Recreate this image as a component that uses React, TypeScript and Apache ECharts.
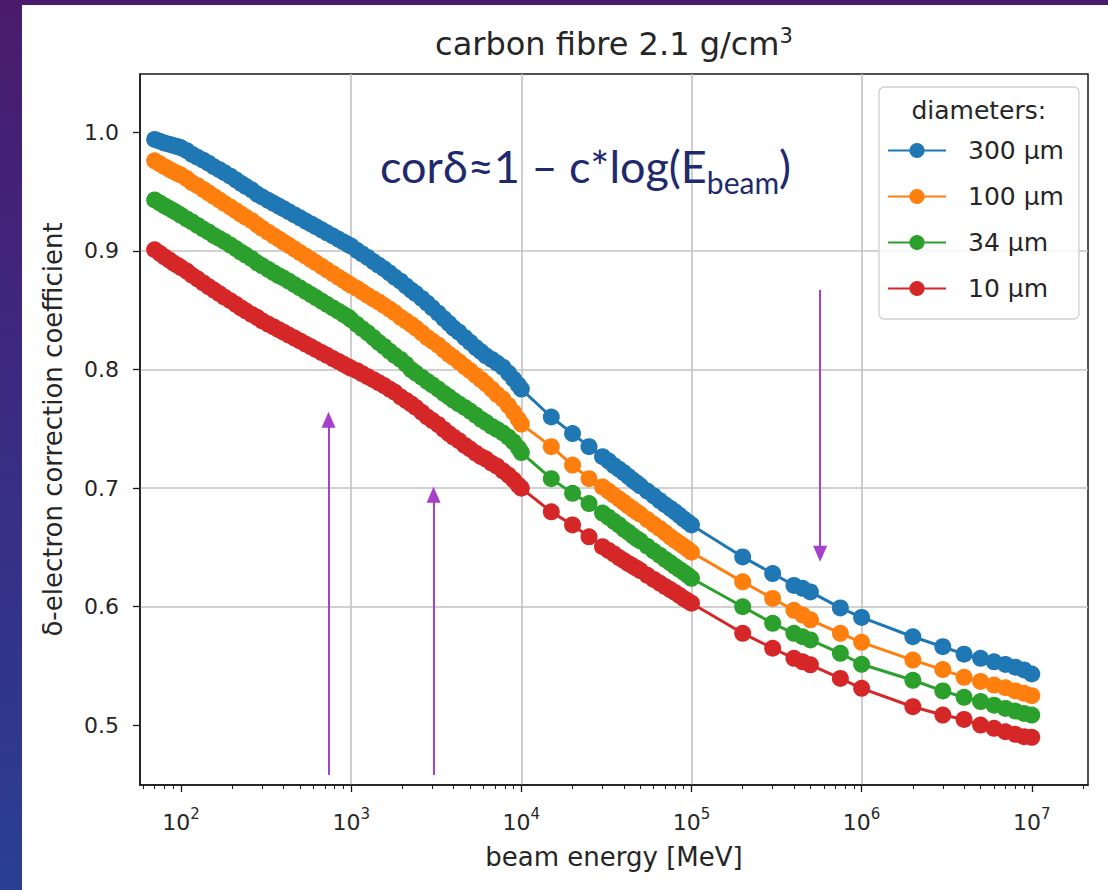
import React, { useEffect, useRef } from 'react';
import * as echarts from 'echarts';

// beam energies [MeV]
const ENERGY_MEV = [
  70, 75, 80, 85, 90, 95,
  100, 108, 116, 125, 135, 145, 156, 168, 180, 195, 210, 225, 240, 260, 280, 300,
  325, 350, 375, 400, 430, 465, 500, 540, 580, 620, 670, 720, 780, 840, 900, 960,
  1000, 1080, 1160, 1250, 1350, 1450, 1560, 1680, 1800, 1950, 2100, 2250, 2400, 2600, 2800, 3000,
  3250, 3500, 3750, 4000, 4300, 4650, 5000, 5400, 5800, 6200, 6700, 7200, 7800, 8400, 9000, 9600,
  10000, 15000, 20000, 25000, 30000, 32500, 35000, 37500, 40000, 42500, 45000, 47500,
  50000, 55000, 60000, 65000, 70000, 75000, 80000, 85000, 90000, 95000, 100000,
  200000, 300000, 400000, 450000, 500000, 750000,
  1000000, 2000000, 3000000, 4000000, 5000000, 6000000, 7000000, 8000000, 9000000, 10000000,
];

const COR_300UM = [
  0.994, 0.9925, 0.991, 0.990, 0.989, 0.988,
  0.987, 0.9845, 0.9815, 0.979, 0.9765, 0.974, 0.971, 0.9685, 0.966, 0.963, 0.960, 0.957, 0.9545, 0.9515, 0.948, 0.9455,
  0.9427, 0.9402, 0.9378, 0.9356, 0.9331, 0.9304, 0.9279, 0.9252, 0.9228, 0.9205, 0.9178, 0.9153, 0.9126, 0.9100, 0.9076, 0.9054,
  0.904, 0.9005, 0.8975, 0.8945, 0.891, 0.888, 0.885, 0.8815, 0.878, 0.8745, 0.8705, 0.867, 0.864, 0.860, 0.856, 0.852,
  0.8475, 0.843, 0.839, 0.835, 0.8315, 0.827, 0.823, 0.8185, 0.815, 0.8115, 0.8085, 0.8055, 0.802, 0.797, 0.792, 0.787,
  0.7835, 0.760, 0.746, 0.735, 0.7265, 0.723, 0.719, 0.716, 0.713, 0.710, 0.707, 0.7045,
  0.702, 0.6975, 0.6935, 0.6895, 0.686, 0.683, 0.680, 0.677, 0.674, 0.6715, 0.669,
  0.642, 0.628, 0.618, 0.6155, 0.6125, 0.599,
  0.591, 0.5747, 0.5663, 0.560, 0.5565, 0.5536, 0.5514, 0.549, 0.5467, 0.5433,
];

const COR_100UM = [
  0.976, 0.9735, 0.971, 0.969, 0.967, 0.9655,
  0.964, 0.961, 0.9575, 0.955, 0.952, 0.949, 0.946, 0.943, 0.940, 0.937, 0.934, 0.931, 0.9285, 0.9255, 0.922, 0.919,
  0.9158, 0.9128, 0.9101, 0.9075, 0.9047, 0.9016, 0.8986, 0.8956, 0.8927, 0.8901, 0.8870, 0.8841, 0.8809, 0.8779, 0.8752, 0.8726,
  0.871, 0.8685, 0.8655, 0.8625, 0.8595, 0.857, 0.854, 0.851, 0.848, 0.844, 0.841, 0.838, 0.835, 0.831, 0.827, 0.824,
  0.8205, 0.8165, 0.813, 0.810, 0.8065, 0.8025, 0.799, 0.795, 0.7915, 0.788, 0.7835, 0.779, 0.775, 0.7695, 0.764, 0.758,
  0.754, 0.735, 0.7195, 0.708, 0.701, 0.6975, 0.694, 0.691, 0.688, 0.685, 0.6825, 0.680,
  0.678, 0.6735, 0.6695, 0.666, 0.6625, 0.659, 0.656, 0.6535, 0.651, 0.6485, 0.646,
  0.621, 0.607, 0.597, 0.593, 0.589, 0.5776,
  0.570, 0.555, 0.547, 0.5405, 0.537, 0.534, 0.5317, 0.529, 0.527, 0.525,
];

const COR_34UM = [
  0.943, 0.9405, 0.938, 0.936, 0.934, 0.932,
  0.930, 0.927, 0.9245, 0.9215, 0.9185, 0.916, 0.913, 0.9105, 0.908, 0.905, 0.902, 0.899, 0.8965, 0.8935, 0.890, 0.8875,
  0.8845, 0.8817, 0.8791, 0.8772, 0.8745, 0.8715, 0.8688, 0.8659, 0.8632, 0.8607, 0.8577, 0.8550, 0.8520, 0.8492, 0.8466, 0.8442,
  0.842, 0.838, 0.8345, 0.831, 0.827, 0.823, 0.8195, 0.8155, 0.812, 0.8085, 0.8045, 0.800, 0.797, 0.7935, 0.790, 0.787,
  0.7835, 0.780, 0.777, 0.774, 0.771, 0.768, 0.765, 0.7615, 0.758, 0.7555, 0.752, 0.7495, 0.7465, 0.743, 0.739, 0.734,
  0.730, 0.708, 0.6956, 0.687, 0.679, 0.6755, 0.672, 0.669, 0.6655, 0.663, 0.660, 0.6575,
  0.6555, 0.651, 0.647, 0.6435, 0.640, 0.637, 0.634, 0.6315, 0.629, 0.6265, 0.624,
  0.600, 0.586, 0.5776, 0.5747, 0.572, 0.5607,
  0.5515, 0.538, 0.529, 0.5236, 0.520, 0.517, 0.5143, 0.512, 0.510, 0.5087,
];

const COR_10UM = [
  0.901, 0.898, 0.895, 0.8925, 0.890, 0.888,
  0.886, 0.883, 0.8795, 0.8765, 0.873, 0.870, 0.867, 0.864, 0.861, 0.858, 0.855, 0.852, 0.8495, 0.8465, 0.844, 0.841,
  0.8383, 0.8359, 0.8336, 0.8315, 0.8291, 0.8265, 0.8241, 0.8215, 0.8192, 0.8169, 0.8143, 0.8120, 0.8093, 0.8068, 0.8046, 0.8024,
  0.801, 0.799, 0.7965, 0.794, 0.7915, 0.789, 0.7865, 0.7835, 0.781, 0.777, 0.774, 0.771, 0.768, 0.764, 0.760, 0.757,
  0.7535, 0.7495, 0.746, 0.743, 0.740, 0.736, 0.733, 0.7295, 0.7265, 0.7245, 0.721, 0.7185, 0.7145, 0.711, 0.707, 0.7025,
  0.700, 0.680, 0.669, 0.659, 0.6506, 0.6475, 0.6445, 0.6415, 0.639, 0.6365, 0.6345, 0.6325,
  0.6305, 0.6265, 0.623, 0.620, 0.617, 0.6145, 0.612, 0.6095, 0.607, 0.605, 0.603,
  0.5776, 0.565, 0.5565, 0.5536, 0.551, 0.5396,
  0.5312, 0.5157, 0.5087, 0.505, 0.5002, 0.4975, 0.4946, 0.4924, 0.4904, 0.4899,
];

const SERIES_NAMES = ['300 µm', '100 µm', '34 µm', '10 µm'];
const SERIES_VALUES = [COR_300UM, COR_100UM, COR_34UM, COR_10UM];
const SERIES_COLORS = ['#1f77b4', '#ff7f0e', '#2ca02c', '#d62728'];

const X_MAJOR_TICKS = [100, 1000, 10000, 100000, 1000000, 10000000];
const X_MINOR_TICKS = [
  60, 70, 80, 90,
  200, 300, 400, 500, 600, 700, 800, 900,
  2000, 3000, 4000, 5000, 6000, 7000, 8000, 9000,
  20000, 30000, 40000, 50000, 60000, 70000, 80000, 90000,
  200000, 300000, 400000, 500000, 600000, 700000, 800000, 900000,
  2000000, 3000000, 4000000, 5000000, 6000000, 7000000, 8000000, 9000000,
  20000000,
];
const Y_TICKS = [0.5, 0.6, 0.7, 0.8, 0.9, 1.0];

const X_MIN = 57.4;
const X_MAX = 21400000;
const Y_MIN = 0.4497;
const Y_MAX = 1.0492;

// purple annotation arrows: energy position, start value, end value
const ARROW_X = [736, 3050, 570000];
const ARROW_FROM = [0.4581, 0.4581, 0.867];
const ARROW_TO = [0.7577, 0.6944, 0.6447];

const TITLE = 'carbon fibre 2.1 g/cm{sup|3}';
const FORMULA = 'corδ≈1 – c*log(E{sub|beam})';
const LEGEND_TITLE = 'diameters:';
const X_NAME = 'beam energy [MeV]';
const Y_NAME = 'δ-electron correction coefficient';

const INK = '#262626';
const SPINE = '#1a1a1a';
const GRID = '#c2c2c2';
const PURPLE = '#a63fca';
const FONT = 'DejaVu Sans';

export default function App() {
  const ref = useRef<HTMLDivElement>(null);

  useEffect(() => {
    if (!ref.current) return;
    const chart = echarts.init(ref.current, null, { renderer: 'svg' });

    const series: any[] = SERIES_NAMES.map((name, i) => ({
      name,
      type: 'line',
      data: ENERGY_MEV.map((e, j) => [e, SERIES_VALUES[i][j]]),
      symbol: 'circle',
      symbolSize: 17,
      showSymbol: true,
      showAllSymbol: true,
      lineStyle: { color: SERIES_COLORS[i], width: 3 },
      itemStyle: { color: SERIES_COLORS[i], borderWidth: 0 },
      emphasis: { disabled: true },
      silent: true,
    }));

    series.push({
      name: 'annotations',
      type: 'line',
      data: [],
      silent: true,
      markLine: {
        silent: true,
        symbol: ['none', 'triangle'],
        symbolSize: [14, 16],
        label: { show: false },
        lineStyle: { color: PURPLE, width: 2, type: 'solid' },
        emphasis: { disabled: true },
        data: ARROW_X.map((x, i) => [
          { coord: [x, ARROW_FROM[i]] },
          { coord: [x, ARROW_TO[i]] },
        ]),
      },
    });

    const option: any = {
      animation: false,
      backgroundColor: 'transparent',
      textStyle: { fontFamily: FONT },
      grid: {
        left: 140,
        right: 20,
        top: 74,
        bottom: 105,
        show: true,
        borderColor: SPINE,
        borderWidth: 1.5,
        backgroundColor: 'transparent',
      },
      xAxis: [
        {
          type: 'log',
          logBase: 10,
          min: X_MIN,
          max: X_MAX,
          name: X_NAME,
          nameLocation: 'middle',
          nameGap: 59,
          nameTextStyle: { fontSize: 26, color: INK, fontFamily: FONT },
          axisLine: { show: true, lineStyle: { color: SPINE, width: 1.5 } },
          axisTick: {
            show: true,
            inside: false,
            length: 7,
            customValues: X_MAJOR_TICKS,
            lineStyle: { color: SPINE, width: 1.3 },
          },
          axisLabel: {
            customValues: X_MAJOR_TICKS,
            margin: 21,
            fontSize: 22,
            lineHeight: 32,
            color: INK,
            fontFamily: FONT,
            formatter: (v: number) => '10{sup|' + Math.round(Math.log10(v)) + '}',
            rich: {
              sup: { fontSize: 15, lineHeight: 14, verticalAlign: 'top', color: INK, fontFamily: FONT },
            },
          },
          splitLine: {
            show: true,
            showMinLine: false,
            showMaxLine: false,
            lineStyle: { color: GRID, width: 1.6 },
          },
        },
        {
          type: 'log',
          logBase: 10,
          min: X_MIN,
          max: X_MAX,
          position: 'bottom',
          axisLine: { show: false },
          axisLabel: { show: false },
          splitLine: { show: false },
          axisTick: {
            show: true,
            inside: false,
            length: 4,
            customValues: X_MINOR_TICKS,
            lineStyle: { color: SPINE, width: 1 },
          },
        },
      ],
      yAxis: {
        type: 'value',
        min: Y_MIN,
        max: Y_MAX,
        name: Y_NAME,
        nameLocation: 'middle',
        nameGap: 74,
        nameRotate: 90,
        nameTextStyle: { fontSize: 26, color: INK, fontFamily: FONT },
        axisLine: { show: true, lineStyle: { color: SPINE, width: 1.5 } },
        axisTick: {
          show: true,
          inside: false,
          length: 7,
          customValues: Y_TICKS,
          lineStyle: { color: SPINE, width: 1.3 },
        },
        axisLabel: {
          customValues: Y_TICKS,
          margin: 21,
          fontSize: 22,
          color: INK,
          fontFamily: FONT,
          formatter: (v: number) => v.toFixed(1),
        },
        splitLine: {
          show: true,
          showMinLine: false,
          showMaxLine: false,
          lineStyle: { color: GRID, width: 1.6 },
        },
      },
      legend: {
        data: SERIES_NAMES,
        orient: 'vertical',
        left: 879,
        top: 87,
        padding: [51, 15, 18, 8],
        itemGap: 21,
        itemWidth: 58,
        itemHeight: 19,
        selectedMode: false,
        backgroundColor: 'rgba(255,255,255,0.8)',
        borderColor: '#cfcfcf',
        borderWidth: 1.3,
        borderRadius: 5,
        formatter: (name: string) => '{t|' + name + '}',
        textStyle: {
          fontSize: 25,
          color: INK,
          fontFamily: FONT,
          rich: {
            t: { fontSize: 25, lineHeight: 28, color: INK, fontFamily: FONT, padding: [0, 0, 0, 17] },
          },
        },
      },
      graphic: [
        {
          type: 'text',
          z: 10,
          silent: true,
          style: {
            text: TITLE,
            x: 614,
            y: 44,
            align: 'center',
            verticalAlign: 'middle',
            fontSize: 32,
            lineHeight: 38,
            fontFamily: FONT,
            fill: INK,
            rich: {
              sup: { fontSize: 21, lineHeight: 21, verticalAlign: 'top', fontFamily: FONT, fill: INK },
            },
          },
        },
        {
          type: 'text',
          z: 10,
          silent: true,
          style: {
            text: LEGEND_TITLE,
            x: 978.8,
            y: 110,
            align: 'center',
            verticalAlign: 'middle',
            fontSize: 25,
            fontFamily: FONT,
            fill: INK,
          },
        },
        {
          type: 'text',
          z: 10,
          silent: true,
          style: {
            text: FORMULA,
            x: 380,
            y: 166,
            align: 'left',
            verticalAlign: 'middle',
            fontSize: 45,
            lineHeight: 62,
            fontFamily: 'Lato',
            fill: '#1f2a6e',
            rich: {
              sub: { fontSize: 30, lineHeight: 32, verticalAlign: 'bottom', fontFamily: 'Lato', fill: '#1f2a6e' },
            },
          },
        },
      ],
      series,
    };

    chart.setOption(option);
    return () => chart.dispose();
  }, []);

  return (
    <div
      style={{
        position: 'fixed',
        left: 0,
        top: 0,
        width: 1108,
        height: 890,
        overflow: 'hidden',
        background: 'linear-gradient(to bottom, #4a1b6d 0%, #3b2a82 45%, #2a3f92 100%)',
      }}
    >
      <div style={{ position: 'absolute', left: 22, top: 5, right: 0, bottom: 0, background: '#ffffff' }} />
      <div ref={ref} style={{ position: 'absolute', left: 0, top: 0, width: 1108, height: 890 }} />
    </div>
  );
}
